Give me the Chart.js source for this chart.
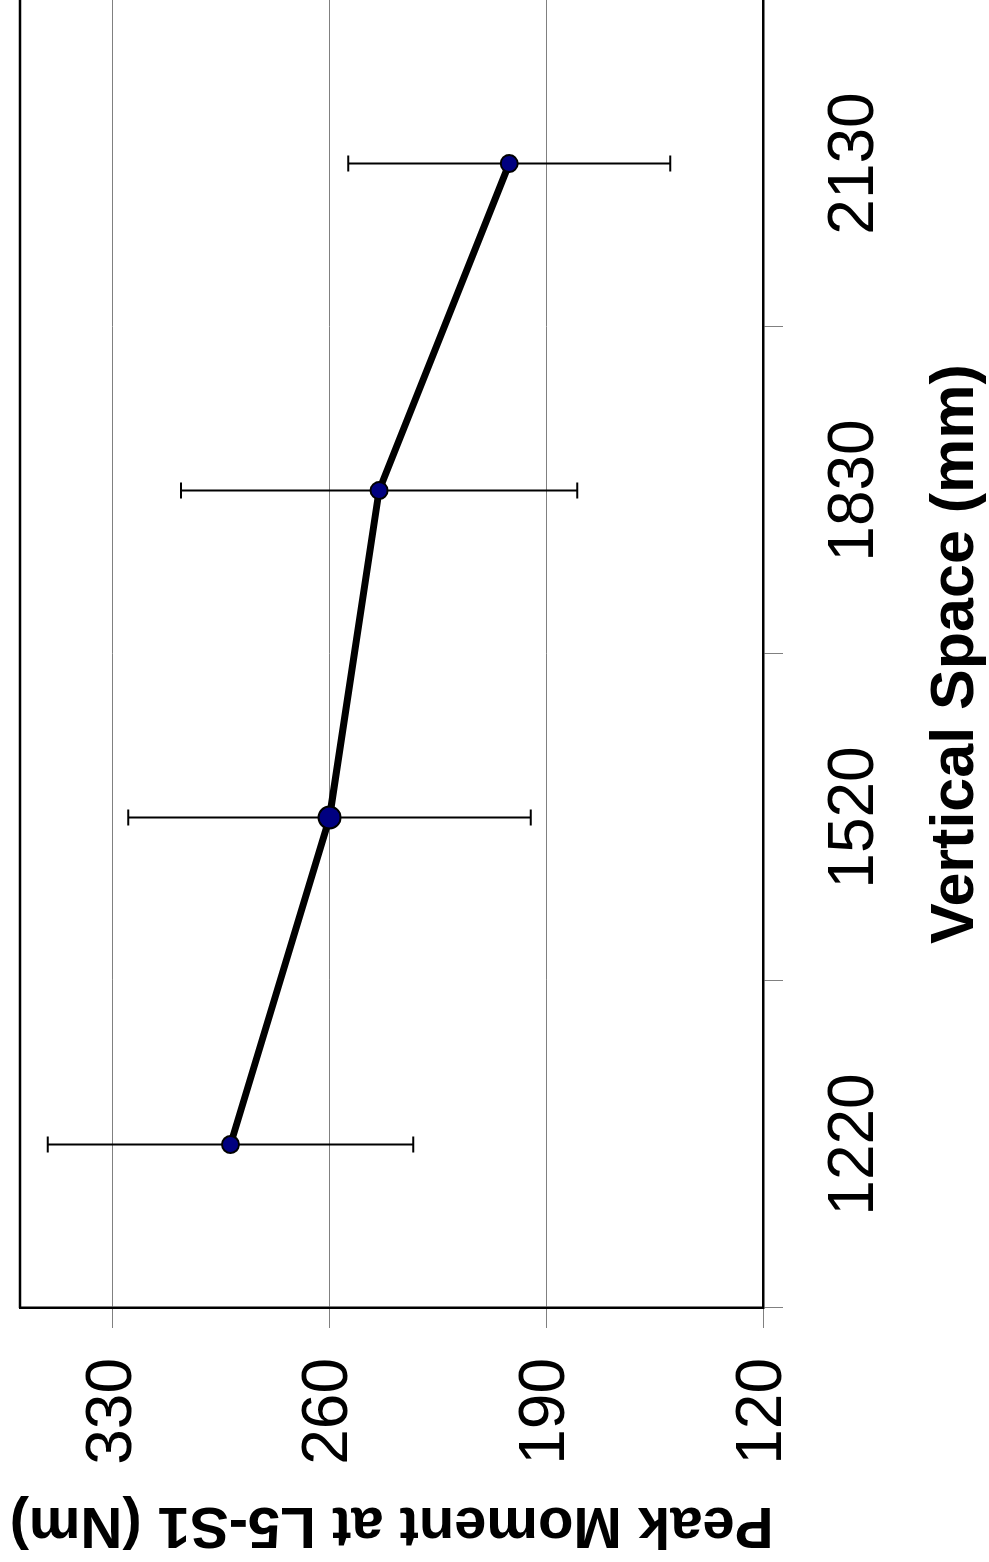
<!DOCTYPE html>
<html>
<head>
<meta charset="utf-8">
<script src="https://cdn.jsdelivr.net/npm/chart.js@4/dist/chart.umd.min.js"></script>
<style>
  html, body { margin: 0; padding: 0; background: #fff; overflow: hidden; }
  body { width: 989px; height: 1562px; position: relative; }
  /* chart is drawn landscape and turned a quarter turn to the left */
  #wrap {
    position: absolute; left: 0; top: 0;
    width: 1562px; height: 989px;
    transform-origin: 0 0;
    transform: translateY(1562px) rotate(-90deg);
  }
</style>
</head>
<body>
<div id="wrap"><canvas id="peakChart" width="1562" height="989"></canvas></div>
<script>
const categories = ['1220', '1520', '1830', '2130'];
const peakMoment = [292, 260, 244, 202];
const peakSD = [59, 65, 64, 52];
const yTicks = [120, 190, 260, 330];

const fontFamily = "'Liberation Sans', Arial, sans-serif";

// error bars, drawn under the points
const errorBars = {
    id: 'errorBars',
    beforeDatasetsDraw(chart) {
        const ctx = chart.ctx;
        const xs = chart.scales.x;
        const ys = chart.scales.y;
        ctx.save();
        ctx.strokeStyle = '#000';
        ctx.lineWidth = 2;
        peakMoment.forEach(function (v, i) {
            const x = xs.getPixelForValue(i);
            const yHi = ys.getPixelForValue(v + peakSD[i]);
            const yLo = ys.getPixelForValue(v - peakSD[i]);
            ctx.beginPath();
            ctx.moveTo(x, yHi);
            ctx.lineTo(x, yLo);
            ctx.moveTo(x - 8, yHi);
            ctx.lineTo(x + 8, yHi);
            ctx.moveTo(x - 8, yLo);
            ctx.lineTo(x + 8, yLo);
            ctx.stroke();
        });
        ctx.restore();
    }
};

// top edge of the plot frame
const topFrame = {
    id: 'topFrame',
    afterDraw(chart) {
        const a = chart.chartArea;
        const ctx = chart.ctx;
        ctx.save();
        ctx.strokeStyle = '#000';
        ctx.lineWidth = 2.5;
        ctx.beginPath();
        ctx.moveTo(a.left, a.top);
        ctx.lineTo(a.right, a.top);
        ctx.stroke();
        ctx.restore();
    }
};

new Chart(document.getElementById('peakChart'), {
    type: 'line',
    data: {
        labels: categories,
        datasets: [{
            label: 'Peak Moment',
            data: peakMoment,
            borderColor: '#000',
            borderWidth: 7,
            tension: 0,
            pointBackgroundColor: '#000080',
            pointBorderColor: '#000',
            pointBorderWidth: 2,
            pointRadius: [8.5, 11, 8.5, 8.5],
        }],
    },
    options: {
        responsive: false,
        animation: false,
        layout: {
            autoPadding: false,
            padding: { left: 0, right: 0, top: 20, bottom: 0 },
        },
        plugins: {
            legend: { display: false },
            tooltip: { enabled: false },
        },
        scales: {
            x: {
                type: 'category',
                offset: true,
                afterFit: function (axis) {
                    axis.height = 226;
                    axis.paddingLeft = 0;
                    axis.paddingRight = 0;
                },
                grid: {
                    offset: true,
                    drawOnChartArea: false,
                    drawTicks: true,
                    tickLength: 20,
                    color: '#808080',
                    lineWidth: 1,
                },
                border: { color: '#000', width: 2.5 },
                ticks: {
                    color: '#000',
                    padding: 34,
                    maxRotation: 0,
                    font: { size: 64, family: fontFamily },
                },
                title: {
                    display: true,
                    text: 'Vertical Space (mm)',
                    color: '#000',
                    padding: { top: 33, bottom: 2 },
                    font: { size: 61, weight: 'bold', family: fontFamily, lineHeight: 1 },
                },
            },
            y: {
                min: 120,
                max: 360,
                afterBuildTicks: function (axis) {
                    axis.ticks = yTicks.map(function (v) { return { value: v }; });
                },
                afterFit: function (axis) {
                    axis.width = 254;
                    axis.paddingTop = 0;
                    axis.paddingBottom = 0;
                },
                grid: {
                    color: '#808080',
                    lineWidth: 1,
                    drawTicks: true,
                    tickLength: 20,
                },
                border: { color: '#000', width: 2.5 },
                ticks: {
                    color: '#000',
                    padding: 30,
                    font: { size: 64, family: fontFamily },
                },
                title: {
                    display: true,
                    text: 'Peak Moment at L5-S1 (Nm)',
                    color: '#000',
                    padding: { top: 9, bottom: 28 },
                    font: { size: 58, weight: 'bold', family: fontFamily, lineHeight: 1 },
                },
            },
        },
    },
    plugins: [errorBars, topFrame],
});
</script>
</body>
</html>
